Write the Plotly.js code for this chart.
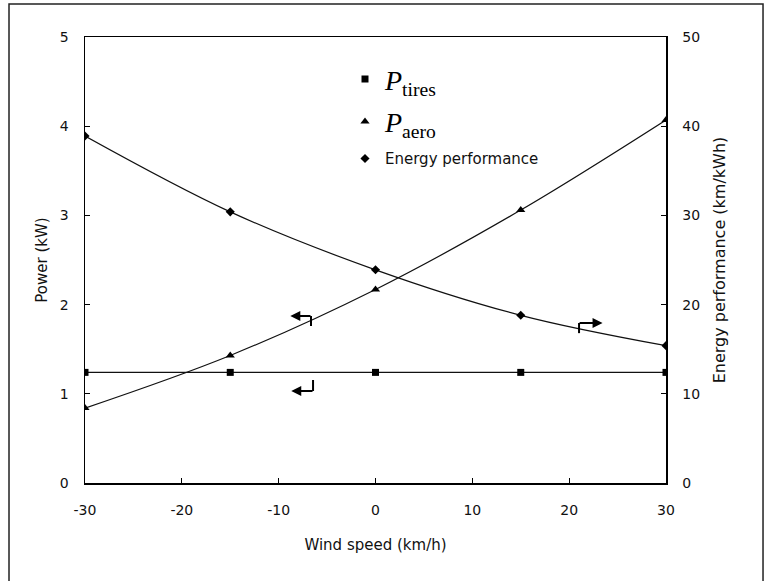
<!DOCTYPE html>
<html>
<head>
<meta charset="utf-8">
<script src="https://cdn.plot.ly/plotly-3.0.1.min.js"></script>
<style>html,body{margin:0;padding:0;background:#fff;}#chart{width:764px;height:581px;}</style>
</head>
<body>
<div id="chart"></div>
<script>
var windSpeed = [-30, -15, 0, 15, 30];
var pTires = [1.24, 1.24, 1.24, 1.24, 1.24];
var pAero = [0.84, 1.43, 2.17, 3.06, 4.07];
var energyPerf = [38.9, 30.4, 23.9, 18.8, 15.4];
var xTicks = [-30, -20, -10, 0, 10, 20, 30];
var xTickText = ['-30', '-20', '-10', '0', '10', '20', '30'];
var yTicks = [0, 1, 2, 3, 4, 5];
var y2Ticks = [0, 10, 20, 30, 40, 50];

var sans = 'DejaVu Sans, Verdana, sans-serif';
var serif = 'Liberation Serif, Times New Roman, serif';
var lineStyle = {color: '#111', width: 1.2};

var traces = [
  {x: windSpeed, y: pTires, type: 'scatter', mode: 'lines', showlegend: false, hoverinfo: 'skip',
   line: lineStyle},
  {x: windSpeed, y: pAero, type: 'scatter', mode: 'lines', showlegend: false, hoverinfo: 'skip',
   line: Object.assign({shape: 'spline'}, lineStyle)},
  {x: windSpeed, y: energyPerf, yaxis: 'y2', type: 'scatter', mode: 'lines', showlegend: false, hoverinfo: 'skip',
   line: Object.assign({shape: 'spline'}, lineStyle)},
  {x: windSpeed, y: pTires, name: '<i>P</i><sub>tires</sub>', type: 'scatter', mode: 'markers', legend: 'legend',
   marker: {symbol: 'square', size: 7, color: '#000'}},
  {x: windSpeed, y: pAero, name: '<i>P</i><sub>aero</sub>', type: 'scatter', mode: 'markers', legend: 'legend2',
   marker: {symbol: 'triangle-up', size: 8, color: '#000'}},
  {x: windSpeed, y: energyPerf, name: 'Energy performance', yaxis: 'y2', type: 'scatter', mode: 'markers', legend: 'legend3',
   marker: {symbol: 'diamond', size: 7, color: '#000'}}
];

var axisCommon = {
  showline: true, linecolor: '#000', linewidth: 1.5, ticks: 'inside', ticklen: 5, tickcolor: '#000',
  showgrid: false, zeroline: false, tickfont: {family: sans, size: 14, color: '#111'}
};
var legBase = {xanchor: 'left', yanchor: 'middle', bgcolor: 'rgba(0,0,0,0)', itemwidth: 30};

var layout = {
  width: 764, height: 581,
  margin: {l: 85, r: 98, t: 37, b: 98},
  paper_bgcolor: '#fff', plot_bgcolor: '#fff',
  showlegend: true,
  legend: Object.assign({x: 0.4475, y: 0.905, font: {family: serif, size: 28, color: '#000'}}, legBase),
  legend2: Object.assign({x: 0.4475, y: 0.81, font: {family: serif, size: 28, color: '#000'}}, legBase),
  legend3: Object.assign({x: 0.4475, y: 0.727, font: {family: sans, size: 15, color: '#111'}}, legBase),
  xaxis: Object.assign({}, axisCommon, {range: [-30, 30], tickvals: xTicks, ticktext: xTickText, ticklabelstandoff: 14, mirror: true,
    title: {text: 'Wind speed (km/h)', font: {family: sans, size: 15, color: '#111'}, standoff: 22}}),
  yaxis: Object.assign({}, axisCommon, {range: [0, 5], tickvals: yTicks, ticklabelstandoff: 12,
    title: {text: 'Power (kW)', font: {family: sans, size: 15, color: '#111'}, standoff: 8}}),
  yaxis2: Object.assign({}, axisCommon, {range: [0, 50], tickvals: y2Ticks, overlaying: 'y', side: 'right', ticklabelstandoff: 12,
    title: {text: 'Energy performance (km/kWh)', font: {family: sans, size: 16, color: '#111'}, standoff: 14}}),
  shapes: [
    {type: 'rect', xref: 'paper', yref: 'paper', x0: -0.1308, x1: 1.167, y0: -0.25, y1: 1.074,
     line: {color: '#222', width: 1.5}},
    {type: 'line', xref: 'x', yref: 'y', x0: -6.66, x1: -6.66, y0: 1.872, y1: 1.76, line: {color: '#000', width: 2}},
    {type: 'line', xref: 'x', yref: 'y', x0: 21.02, x1: 21.02, y0: 1.794, y1: 1.68, line: {color: '#000', width: 2}},
    {type: 'line', xref: 'x', yref: 'y', x0: -6.45, x1: -6.45, y0: 1.155, y1: 1.031, line: {color: '#000', width: 2}}
  ],
  annotations: [
    {xref: 'x', yref: 'y', axref: 'x', ayref: 'y', x: -8.8, y: 1.872, ax: -6.56, ay: 1.872, text: '',
     showarrow: true, arrowhead: 2, arrowsize: 1, arrowwidth: 2, arrowcolor: '#000'},
    {xref: 'x', yref: 'y', axref: 'x', ayref: 'y', x: 23.45, y: 1.794, ax: 20.92, ay: 1.794, text: '',
     showarrow: true, arrowhead: 2, arrowsize: 1, arrowwidth: 2, arrowcolor: '#000'},
    {xref: 'x', yref: 'y', axref: 'x', ayref: 'y', x: -8.7, y: 1.031, ax: -6.35, ay: 1.031, text: '',
     showarrow: true, arrowhead: 2, arrowsize: 1, arrowwidth: 2, arrowcolor: '#000'}
  ]
};

Plotly.newPlot('chart', traces, layout, {displayModeBar: false, staticPlot: true});
</script>
</body>
</html>
